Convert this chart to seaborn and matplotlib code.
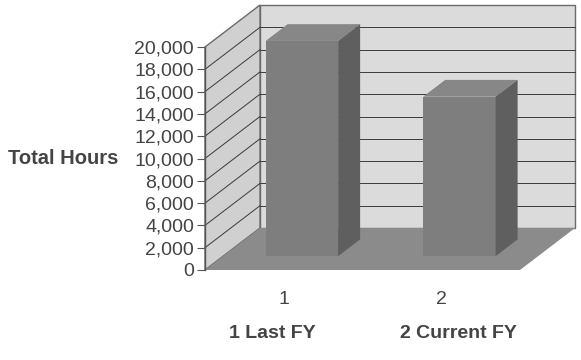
import matplotlib
matplotlib.use("Agg")
import matplotlib.pyplot as plt
import seaborn as sns
from matplotlib.patches import Polygon
from matplotlib.transforms import blended_transform_factory

# --- data ---
categories = ["1", "2"]
hours = [19300, 14300]
category_titles = ["1 Last FY", "2 Current FY"]
y_ticks = [0, 2000, 4000, 6000, 8000, 10000, 12000, 14000, 16000, 18000, 20000]
y_tick_labels = [f"{v:,}" for v in y_ticks]
y_title = "Total Hours"

sns.set_style("white")
plt.rcParams["font.family"] = ["Liberation Sans", "DejaVu Sans"]

TEXT = "#444444"
BACK_WALL = "#dbdbdb"
SIDE_WALL = "#d0d0d0"
FLOOR = "#8b8b8b"
BAR_FRONT = "#7e7e7e"
BAR_TOP = "#878787"
BAR_SIDE = "#5f5f5f"
GRID = "#3a3a3a"
EDGE = "#6a6a6a"

fig = plt.figure(figsize=(5.81, 3.60), dpi=100)
ax = fig.add_axes([205 / 581, 90 / 360, 315 / 581, 223 / 360])

ymax = 20000
xlo, xhi = -0.5, 1.5
# oblique depth direction, expressed in data units (full depth of the box)
dx = 55 / 315 * (xhi - xlo)
dy = 42 / 223 * ymax

# back wall
ax.add_patch(Polygon([(xlo + dx, dy), (xhi + dx, dy), (xhi + dx, ymax + dy), (xlo + dx, ymax + dy)],
                     closed=True, facecolor=BACK_WALL, edgecolor=EDGE, lw=1.0, clip_on=False, zorder=1))
# left side wall
ax.add_patch(Polygon([(xlo, 0), (xlo, ymax), (xlo + dx, ymax + dy), (xlo + dx, dy)],
                     closed=True, facecolor=SIDE_WALL, edgecolor=EDGE, lw=1.0, clip_on=False, zorder=1))
# floor
ax.add_patch(Polygon([(xlo, 0), (xhi, 0), (xhi + dx, dy), (xlo + dx, dy)],
                     closed=True, facecolor=FLOOR, edgecolor="none", clip_on=False, zorder=2))

# gridlines on both walls
for v in y_ticks[1:-1]:
    ax.plot([xlo, xlo + dx], [v, v + dy], color=GRID, lw=0.7, clip_on=False, zorder=1.5)
    ax.plot([xlo + dx, xhi + dx], [v + dy, v + dy], color=GRID, lw=0.7, clip_on=False, zorder=1.5)

# bar front faces
sns.barplot(x=categories, y=hours, ax=ax, width=0.46, color=BAR_FRONT,
            saturation=1, edgecolor="none", zorder=5)

d0, bd = 0.33, 0.40  # where bars start in depth, and how deep they are
for patch, val in zip(ax.patches[-len(hours):], hours):
    patch.set_clip_on(False)
    x0 = patch.get_x() + d0 * dx
    w = patch.get_width()
    base = d0 * dy
    patch.set_x(x0)
    patch.set_y(base)
    top = base + val
    ox, oy = bd * dx, bd * dy
    ax.add_patch(Polygon([(x0, top), (x0 + w, top), (x0 + w + ox, top + oy), (x0 + ox, top + oy)],
                         closed=True, facecolor=BAR_TOP, edgecolor="none", clip_on=False, zorder=6))
    ax.add_patch(Polygon([(x0 + w, base), (x0 + w, top), (x0 + w + ox, top + oy), (x0 + w + ox, base + oy)],
                         closed=True, facecolor=BAR_SIDE, edgecolor="none", clip_on=False, zorder=6))

ax.set_xlim(xlo, xhi)
ax.set_ylim(0, ymax)
ax.set_yticks(y_ticks)
ax.set_yticklabels(y_tick_labels)
ax.set_xlabel("")
ax.set_ylabel("")

for side in ["top", "right", "bottom"]:
    ax.spines[side].set_visible(False)
ax.spines["left"].set_color("#555555")
ax.spines["left"].set_linewidth(1.0)
ax.spines["left"].set_zorder(3)

ax.tick_params(axis="y", left=True, length=6, width=0.8, color="#555555",
               pad=2, labelsize=14, labelcolor=TEXT)
ax.tick_params(axis="x", bottom=False, length=0, pad=15, labelsize=14, labelcolor=TEXT)

ax.text(-0.275, 0.5, y_title, transform=ax.transAxes, ha="right", va="center",
        fontsize=14.5, fontweight="bold", color=TEXT)

trans = blended_transform_factory(ax.transData, ax.transAxes)
for xpos, title in zip([-0.075, 1.106], category_titles):
    ax.text(xpos, -0.285, title, transform=trans, ha="center", va="center",
            fontsize=14, fontweight="bold", color=TEXT)

fig.savefig("out.png", dpi=100)
